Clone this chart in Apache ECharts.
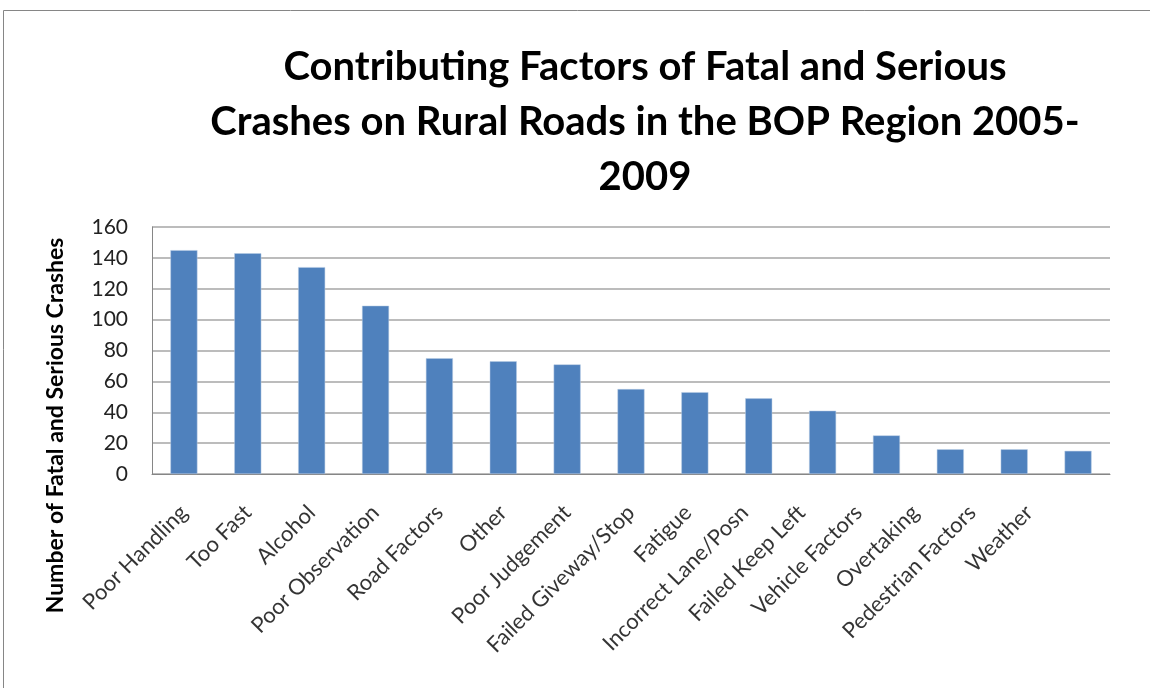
<!DOCTYPE html>
<html>
<head>
<meta charset="utf-8">
<script src="https://cdn.jsdelivr.net/npm/echarts@6/dist/echarts.min.js"></script>
<style>
  html, body { margin: 0; padding: 0; background: #fff; }
  #chart { width: 1150px; height: 688px; }
</style>
</head>
<body>
<div id="chart"></div>
<script>
// categories and crash counts
var factors = ['Poor Handling', 'Too Fast', 'Alcohol', 'Poor Observation', 'Road Factors', 'Other',
  'Poor Judgement', 'Failed Giveway/Stop', 'Fatigue', 'Incorrect Lane/Posn', 'Failed Keep Left',
  'Vehicle Factors', 'Overtaking', 'Pedestrian Factors', 'Weather'];
var crashes = [145, 143, 134, 109, 75, 73, 71, 55, 53, 49, 41, 25, 16, 16, 15];
var yTicks = [0, 20, 40, 60, 80, 100, 120, 140, 160];

var font = 'Lato, "Open Sans", sans-serif';
var labelRot = 45;
var myChart = echarts.init(document.getElementById('chart'));

// category names are drawn as labels of an invisible series sitting on y=0,
// so each one can be nudged (the original drifts left of its bar towards the end).
// label offset is applied in the rotated frame, so turn the screen shift back first
function nameLabel(name, i) {
  var sx = i > 7 ? -(i - 7) * 7 : 0;
  var sy = 35;
  var r = labelRot * Math.PI / 180;
  var ox = sx * Math.cos(r) - sy * Math.sin(r);
  var oy = sx * Math.sin(r) + sy * Math.cos(r);
  return { value: [i, 0], name: name, label: { offset: [ox, oy] } };
}

myChart.setOption({
  backgroundColor: '#fff',
  animation: false,
  graphic: [{
    type: 'rect',
    shape: { x: 3.5, y: 10.5, width: 1300, height: 900 },
    style: { fill: 'none', stroke: '#868686', lineWidth: 1 }
  }],
  title: {
    text: 'Contributing Factors of Fatal and Serious\nCrashes on Rural Roads in the BOP Region 2005-\n2009',
    left: 640,
    top: 35,
    textAlign: 'center',
    textStyle: { fontFamily: font, fontSize: 40, fontWeight: 'bold', color: '#000', lineHeight: 55 }
  },
  grid: { left: 152, right: 40, top: 227, bottom: 214 },
  xAxis: {
    type: 'category',
    data: factors,
    axisLine: { lineStyle: { color: '#868686' } },
    axisTick: { show: false },
    axisLabel: { show: false }
  },
  yAxis: {
    type: 'value',
    min: 0, max: 160, interval: 20,
    name: 'Number of Fatal and Serious Crashes',
    nameLocation: 'middle',
    nameGap: 85,
    nameTextStyle: { fontFamily: font, fontSize: 23, fontWeight: 'bold', color: '#000', padding: [0, 150, 0, 0] },
    axisLine: { show: true, lineStyle: { color: '#868686' } },
    axisTick: { show: false },
    axisLabel: {
      margin: 24, fontFamily: font, fontSize: 21, color: '#222',
      formatter: function (v) { return yTicks.indexOf(v) >= 0 ? String(v) : ''; }
    },
    splitLine: { lineStyle: { color: '#a6a6a6', width: 1.5 } }
  },
  series: [{
    type: 'bar',
    data: crashes,
    barWidth: 27,
    itemStyle: { color: '#4f81bd', borderColor: '#b9cde5', borderWidth: 0.5 }
  }, {
    type: 'scatter',
    data: factors.map(nameLabel),
    symbolSize: 1,
    silent: true,
    clip: false,
    itemStyle: { color: 'rgba(0,0,0,0)' },
    label: {
      show: true,
      position: 'inside',
      rotate: labelRot,
      align: 'right',
      verticalAlign: 'middle',
      fontFamily: font, fontSize: 22, color: '#000',
      formatter: function (p) { return p.name; }
    }
  }]
});
</script>
</body>
</html>
